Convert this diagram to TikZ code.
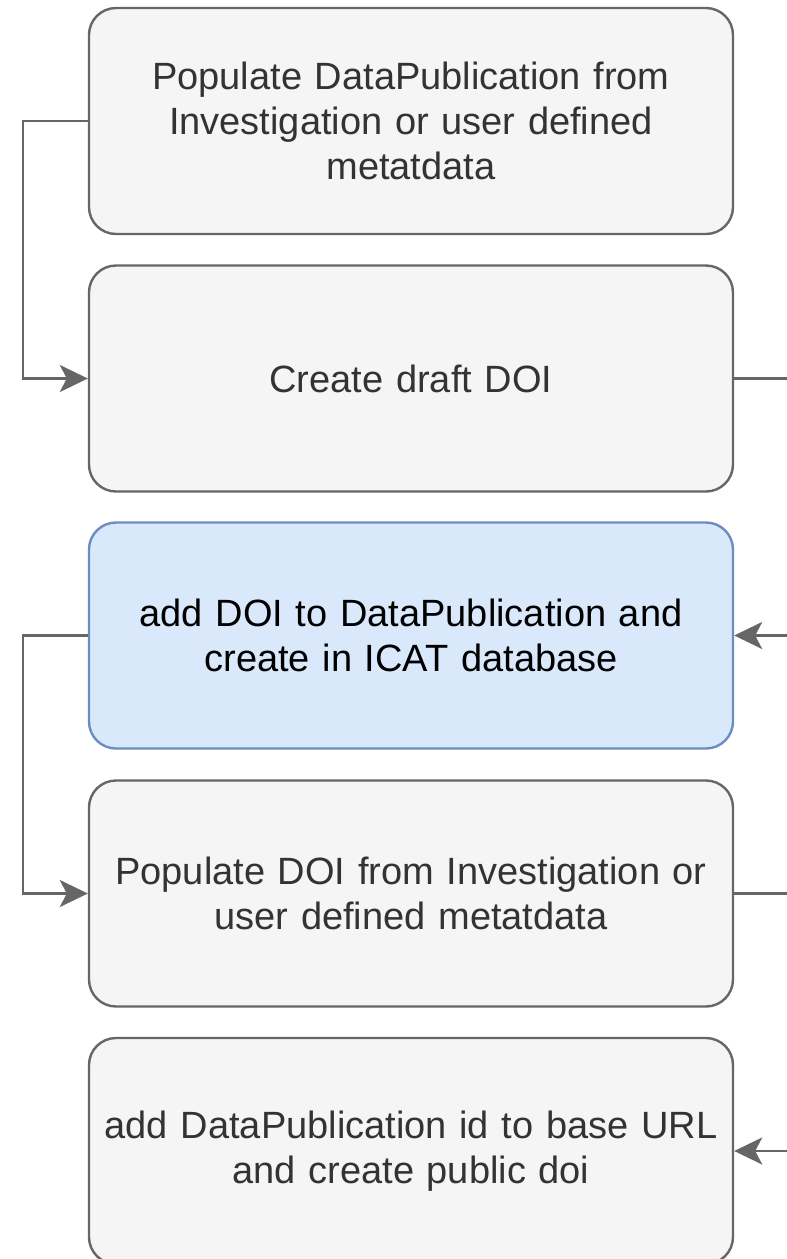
\documentclass[tikz,border=0pt]{standalone}
\usepackage{fontspec}
\setmainfont{Liberation Sans}
\usetikzlibrary{arrows.meta}
\definecolor{gfill}{HTML}{F5F5F5}
\definecolor{gline}{HTML}{666666}
\definecolor{gtext}{HTML}{333333}
\definecolor{bfill}{HTML}{DAE8FC}
\definecolor{bline}{HTML}{6C8EBF}
\tikzset{
  stepbox/.style={draw=gline, fill=gfill, line width=2.4pt, rounded corners=27pt,
    minimum width=644pt, minimum height=226pt, text width=630pt, align=center,
    text=gtext, font=\fontsize{38}{45}\selectfont, inner sep=0pt},
  bluebox/.style={stepbox, draw=bline, fill=bfill, text=black},
  conn/.style={draw=gline, line width=2.4pt},
  arr/.style={conn, -{Stealth[length=28pt,width=27pt,inset=7pt]}}
}
\begin{document}
\begin{tikzpicture}[x=1pt,y=-1pt]
\useasboundingbox (0,0) rectangle (787,1259);
\clip (0,0) rectangle (787,1259);
\node[stepbox] (b1) at (411,121) {Populate DataPublication from\\Investigation or user defined\\metatdata};
\node[stepbox] (b2) at (411,378.5) {Create draft DOI};
\node[bluebox] (b3) at (411,635.5) {add DOI to DataPublication and\\create in ICAT database};
\node[stepbox] (b4) at (411,893.5) {Populate DOI from Investigation or\\user defined metatdata};
\node[stepbox] (b5) at (411,1151) {add DataPublication id to base URL\\and create public doi};
\coordinate (r2) at (800,378.5);
\coordinate (r3) at (800,635.5);
\coordinate (r4) at (800,893.5);
\coordinate (r5) at (800,1151);
\draw[arr] (b1.west) -- ++(-65,0) |- (b2.west);
\draw[arr] (b3.west) -- ++(-65,0) |- (b4.west);
\draw[conn] (b2.east) -- (r2);
\draw[arr] (r3) -- (b3.east);
\draw[conn] (b4.east) -- (r4);
\draw[arr] (r5) -- (b5.east);
\end{tikzpicture}
\end{document}
